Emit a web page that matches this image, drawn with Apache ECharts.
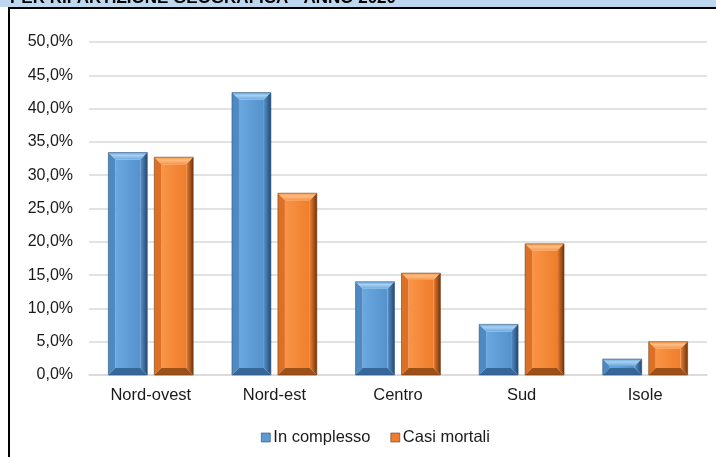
<!DOCTYPE html>
<html>
<head>
<meta charset="utf-8">
<script src="https://cdn.jsdelivr.net/npm/echarts@6/dist/echarts.min.js"></script>
<style>html,body{margin:0;padding:0;background:#fff}#c{width:716px;height:457px}</style>
</head>
<body>
<div id="c"></div>
<script>
const titleText = 'PER RIPARTIZIONE GEOGRAFICA - ANNO 2020';
const categories = ['Nord-ovest', 'Nord-est', 'Centro', 'Sud', 'Isole'];
const seriesNames = ['In complesso', 'Casi mortali'];
const inComplesso = [33.4, 42.4, 14.0, 7.6, 2.4];
const casiMortali = [32.7, 27.3, 15.3, 19.7, 5.0];
const yTicks = { min: 0, max: 50, interval: 5 };

const palettes = [
  { face: ['#6AA8E0', '#5592CC'], top: '#A9D0F2', left: '#4D89C2', right: '#24496F', bottom: '#36679A', edge: '#2A4E75', legend: '#5B9BD5' },
  { face: ['#FA9446', '#EE7E2C'], top: '#FFBE85', left: '#DE7025', right: '#6E3610', bottom: '#9E5019', edge: '#6E3A14', legend: '#ED7D31' }
];

function makeRender(idx) {
  return function (params, api) {
    const xi = api.value(0);
    const v = api.value(1);
    const pTop = api.coord([xi, v]);
    const pBase = api.coord([xi, 0]);
    const band = api.size([1, 0])[0];
    const w = band * 0.315;
    const gap = 7;
    const cx = pBase[0] + (idx === 0 ? -(w + gap) / 2 : (w + gap) / 2);
    const x0 = cx - w / 2, x1 = cx + w / 2;
    const y0 = pTop[1], y1 = pBase[1];
    const h = y1 - y0;
    const b = Math.max(1, Math.min(7, h / 2.2, w / 4));
    const p = palettes[idx];
    return {
      type: 'group',
      children: [
        { type: 'rect', shape: { x: x0 + b, y: y0 + b, width: w - 2 * b, height: Math.max(0, h - 2 * b) },
          style: { fill: new echarts.graphic.LinearGradient(0, 0, 1, 0, [{ offset: 0, color: p.face[0] }, { offset: 1, color: p.face[1] }]) } },
        { type: 'polygon', shape: { points: [[x0, y0], [x1, y0], [x1 - b, y0 + b], [x0 + b, y0 + b]] },
          style: { fill: new echarts.graphic.LinearGradient(0, 0, 0, 1, [{ offset: 0, color: p.face[0] }, { offset: 0.4, color: p.top }, { offset: 1, color: p.face[0] }]) } },
        { type: 'polygon', shape: { points: [[x0, y0], [x0 + b, y0 + b], [x0 + b, y1 - b], [x0, y1]] }, style: { fill: p.left } },
        { type: 'polygon', shape: { points: [[x1, y0], [x1, y1], [x1 - b, y1 - b], [x1 - b, y0 + b]] },
          style: { fill: new echarts.graphic.LinearGradient(0, 0, 1, 0, [{ offset: 0, color: p.face[1] }, { offset: 1, color: p.right }]) } },
        { type: 'polygon', shape: { points: [[x0, y1], [x0 + b, y1 - b], [x1 - b, y1 - b], [x1, y1]] }, style: { fill: p.bottom } },
        { type: 'rect', shape: { x: x0, y: y0, width: w, height: h }, style: { fill: null, stroke: p.edge, lineWidth: 0.8, opacity: 0.7 } }
      ]
    };
  };
}

const chart = echarts.init(document.getElementById('c'), null, { renderer: 'canvas' });
const font = 'Liberation Sans, Arial, sans-serif';
chart.setOption({
  animation: false,
  backgroundColor: '#ffffff',
  graphic: [
    { type: 'rect', shape: { x: 0, y: 0, width: 716, height: 7 }, style: { fill: '#BDD7EE' }, z: 10 },
    { type: 'text', x: 10, y: -2, style: { text: titleText, fill: '#000', font: 'bold 17px ' + font, verticalAlign: 'middle', align: 'left' }, z: 11 },
    { type: 'rect', shape: { x: 9, y: 7, width: 707, height: 2 }, style: { fill: '#000' }, z: 12 },
    { type: 'rect', shape: { x: 8, y: 7, width: 2, height: 450 }, style: { fill: '#000' }, z: 12 }
  ],
  grid: { left: 89, right: 9, top: 42, bottom: 82, containLabel: false },
  legend: {
    data: seriesNames.map((n, i) => ({ name: n, icon: 'rect', itemStyle: { color: palettes[i].legend, borderColor: palettes[i].edge, borderWidth: 0.6 } })),
    left: 256, top: 424, itemWidth: 9, itemHeight: 9, itemGap: 20,
    textStyle: { fontFamily: font, fontSize: 16.5, color: '#1a1a1a', padding: [0, 0, 0, -2] }
  },
  xAxis: {
    type: 'category', data: categories,
    axisLine: { show: true, lineStyle: { color: '#D9D9D9', width: 1.5 } },
    axisTick: { show: false },
    axisLabel: { fontFamily: font, fontSize: 16.5, color: '#1a1a1a', margin: 12 }
  },
  yAxis: {
    type: 'value', min: yTicks.min, max: yTicks.max, interval: yTicks.interval,
    axisLine: { show: false }, axisTick: { show: false },
    splitLine: { lineStyle: { color: '#D9D9D9', width: 1.5 } },
    axisLabel: { fontFamily: font, fontSize: 16, color: '#1a1a1a', margin: 16,
      formatter: v => v.toFixed(1).replace('.', ',') + '%' }
  },
  series: [
    { name: seriesNames[0], type: 'custom', renderItem: makeRender(0), itemStyle: { color: palettes[0].legend },
      encode: { x: 0, y: 1 }, data: inComplesso.map((v, i) => [i, v]), z: 3 },
    { name: seriesNames[1], type: 'custom', renderItem: makeRender(1), itemStyle: { color: palettes[1].legend },
      encode: { x: 0, y: 1 }, data: casiMortali.map((v, i) => [i, v]), z: 3 }
  ]
});
</script>
</body>
</html>
